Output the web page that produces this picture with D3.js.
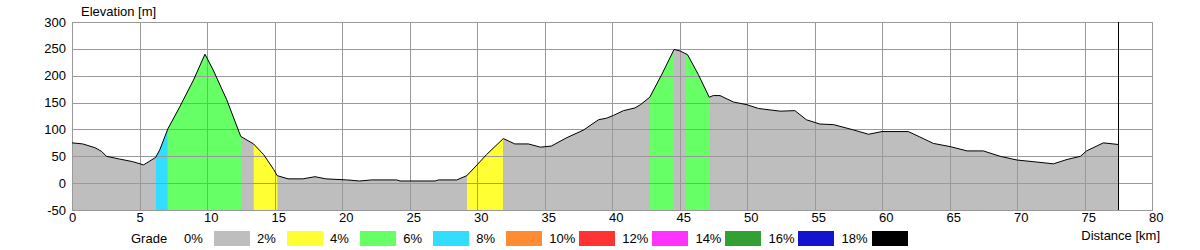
<!DOCTYPE html>
<html>
<head>
<meta charset="utf-8">
<script src="https://cdn.jsdelivr.net/npm/d3@7"></script>
<style>
  body { margin: 0; background: #fff; }
  text { font-family: "Liberation Sans", Arial, sans-serif; font-size: 13px; fill: #000; }
</style>
</head>
<body>
<script>
// Profile data (distance in km, elevation in m)
const distKm = [0, 0.8, 1.7, 2.2, 2.55, 3.5, 4.5, 5.3, 6.2, 6.5, 7.1, 8.0, 9.0, 9.85, 10.45, 11.45, 12.5, 13.45, 14.2, 14.95,
  15.2, 16.0, 17.1, 18.0, 18.8, 20.35, 21.3, 22.2, 24.05, 24.3, 26.9, 27.15, 28.5, 29.25, 30.0, 30.7, 31.95, 32.8, 33.8, 34.7,
  35.5, 36.6, 37.9, 39.0, 39.6, 40.1, 40.85, 41.7, 42.1, 42.8, 43.7, 44.6, 45.05, 45.6, 46.4, 47.2, 47.5, 48.0, 49.0, 50.0,
  50.85, 52.45, 53.55, 54.4, 55.4, 56.4, 57.9, 59.0, 60.0, 61.95, 62.8, 63.8, 65.05, 66.3, 67.5, 68.75, 70.0, 71.2, 72.7, 73.7,
  74.7, 75.15, 76.4, 77.5];
const elevM = [75, 73, 66, 59, 50, 45, 40, 34, 48, 62, 101, 143, 192, 240, 211, 156, 87, 73, 53, 25,
  14, 8, 8, 12, 8, 6, 4, 6, 6, 4, 4, 6, 6, 14, 34, 53, 83, 73, 73, 67,
  69, 84, 99, 118, 121, 126, 135, 140, 146, 160, 203, 249, 246, 239, 202, 160, 163, 163, 151, 146,
  139, 134, 135, 118, 110, 109, 99, 91, 96, 96, 86, 74, 68, 60, 60, 50, 43, 40, 36, 44,
  50, 60, 75, 72];

// Grade stretches: start km, end km, index into grade colours
const bandStart = [6.22, 7.09, 13.46, 29.25, 42.77, 45.46];
const bandEnd = [7.09, 12.52, 15.21, 31.93, 44.57, 47.24];
const bandGrade = [3, 2, 1, 1, 2, 2];

// Legend
const gradeLabels = ["0%", "2%", "4%", "6%", "8%", "10%", "12%", "14%", "16%", "18%"];
const gradeColors = ["#bebebe", "#ffff33", "#66ff66", "#33ddff", "#ff8c33", "#ff3333", "#ff33ff", "#33a033", "#1414cc", "#000000"];

// Ticks
const xTicks = d3.range(0, 81, 5);
const yTicks = d3.range(-50, 301, 50);

const width = 1200;
const height = 250;

const svg = d3.select("body")
  .append("svg")
  .attr("width", width)
  .attr("height", height);

const x = d3.scaleLinear().domain([0, 80]).range([72, 1152]);
const y = d3.scaleLinear().domain([-50, 300]).range([210, 22]);

const profile = distKm.map((d, i) => ({ km: d, el: elevM[i] }));

const area = d3.area()
  .x((d) => x(d.km))
  .y0(y(-50))
  .y1((d) => y(d.el));

const line = d3.line()
  .x((d) => x(d.km))
  .y((d) => y(d.el));

// Base fill
svg.append("path")
  .datum(profile)
  .attr("d", area)
  .attr("fill", gradeColors[0]);

// Coloured grade stretches, clipped from the same area
const defs = svg.append("defs");
bandStart.forEach((s, i) => {
  defs.append("clipPath")
    .attr("id", "band" + i)
    .append("rect")
    .attr("x", x(s))
    .attr("y", y(300))
    .attr("width", x(bandEnd[i]) - x(s))
    .attr("height", y(-50) - y(300));
  svg.append("path")
    .datum(profile)
    .attr("d", area)
    .attr("fill", gradeColors[bandGrade[i]])
    .attr("clip-path", `url(#band${i})`);
});

// Grid
const grid = svg.append("g")
  .attr("stroke", "#999")
  .attr("stroke-width", 1);

grid.selectAll(".vx")
  .data(xTicks)
  .enter()
  .append("line")
  .attr("x1", (d) => Math.round(x(d)) + 0.5)
  .attr("x2", (d) => Math.round(x(d)) + 0.5)
  .attr("y1", y(300))
  .attr("y2", y(-50));

grid.selectAll(".hy")
  .data(yTicks)
  .enter()
  .append("line")
  .attr("x1", x(0))
  .attr("x2", x(80) + 1)
  .attr("y1", (d) => Math.round(y(d)) + 0.5)
  .attr("y2", (d) => Math.round(y(d)) + 0.5);

// Profile outline
svg.append("path")
  .datum(profile)
  .attr("d", line)
  .attr("fill", "none")
  .attr("stroke", "#000")
  .attr("stroke-width", 1);

// End of track marker
const lastKm = distKm[distKm.length - 1];
svg.append("line")
  .attr("x1", Math.round(x(lastKm)) + 0.5)
  .attr("x2", Math.round(x(lastKm)) + 0.5)
  .attr("y1", y(300))
  .attr("y2", y(-50))
  .attr("stroke", "#000");

// Axis labels
svg.selectAll(".ylab")
  .data(yTicks)
  .enter()
  .append("text")
  .attr("x", 66)
  .attr("y", (d) => y(d) + 4.5)
  .attr("text-anchor", "end")
  .text((d) => d);

svg.selectAll(".xlab")
  .data(xTicks)
  .enter()
  .append("text")
  .attr("x", (d) => x(d) - 3)
  .attr("y", 222)
  .text((d) => d);

svg.append("text")
  .attr("x", 81)
  .attr("y", 16)
  .text("Elevation [m]");

svg.append("text")
  .attr("x", 1160)
  .attr("y", 240)
  .attr("text-anchor", "end")
  .text("Distance [km]");

// Legend
svg.append("text")
  .attr("x", 131)
  .attr("y", 243)
  .text("Grade");

const step = 73.06;
const legend = svg.append("g");
gradeLabels.forEach((lab, i) => {
  legend.append("text")
    .attr("x", 184 + step * i)
    .attr("y", 243)
    .text(lab);
  legend.append("rect")
    .attr("x", Math.round(214 + step * i))
    .attr("y", 231)
    .attr("width", 36)
    .attr("height", 15)
    .attr("fill", gradeColors[i]);
});
</script>
</body>
</html>
